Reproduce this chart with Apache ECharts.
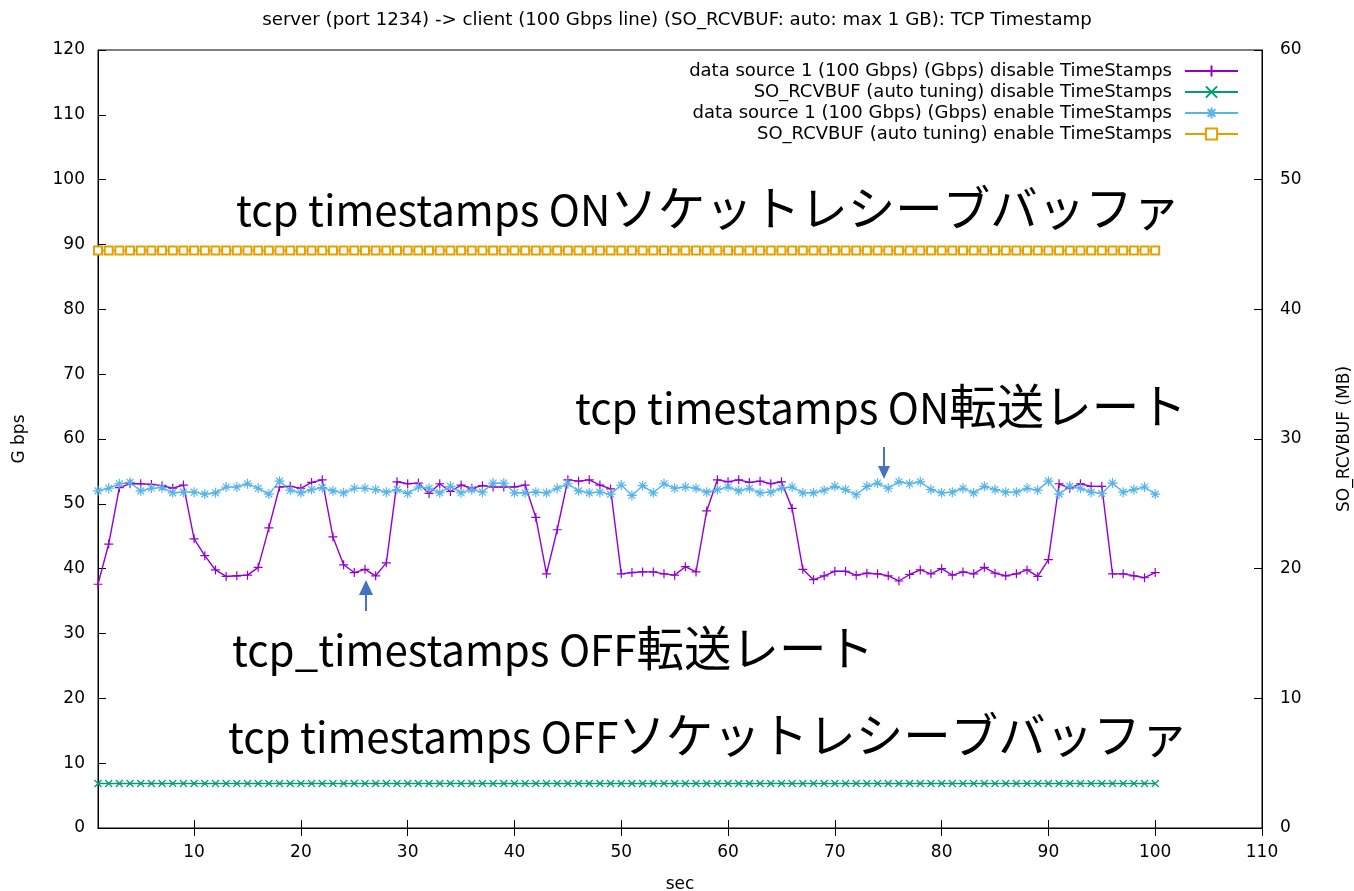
<!DOCTYPE html>
<html>
<head>
<meta charset="utf-8">
<title>TCP Timestamp</title>
<script src="https://cdn.jsdelivr.net/npm/echarts@6/dist/echarts.min.js"></script>
<style>
  html, body { margin: 0; padding: 0; background: #fff; }
  #chart { width: 1354px; height: 891px; }
</style>
</head>
<body>
<div id="chart"></div>
<script>
// elapsed time (sec)
const sec = [
  1, 2, 3, 4, 5, 6, 7, 8, 9, 10,
  11, 12, 13, 14, 15, 16, 17, 18, 19, 20,
  21, 22, 23, 24, 25, 26, 27, 28, 29, 30,
  31, 32, 33, 34, 35, 36, 37, 38, 39, 40,
  41, 42, 43, 44, 45, 46, 47, 48, 49, 50,
  51, 52, 53, 54, 55, 56, 57, 58, 59, 60,
  61, 62, 63, 64, 65, 66, 67, 68, 69, 70,
  71, 72, 73, 74, 75, 76, 77, 78, 79, 80,
  81, 82, 83, 84, 85, 86, 87, 88, 89, 90,
  91, 92, 93, 94, 95, 96, 97, 98, 99, 100
];

// throughput (Gbps) with TCP timestamps disabled
const rateTsOff = [
  37.6, 43.8, 52.5, 53.1, 53.1, 53.0, 52.8, 52.4, 52.9, 44.6,
  42.0, 39.8, 38.8, 38.9, 39.0, 40.2, 46.3, 52.6, 52.7, 52.4,
  53.3, 53.7, 44.9, 40.6, 39.4, 39.9, 38.9, 40.9, 53.4, 53.1,
  53.2, 51.6, 53.1, 51.9, 52.9, 52.4, 52.8, 52.6, 52.6, 52.6,
  52.9, 47.9, 39.2, 46.0, 53.7, 53.5, 53.7, 52.9, 52.3, 39.2,
  39.4, 39.5, 39.5, 39.2, 39.0, 40.3, 39.5, 48.9, 53.7, 53.4,
  53.7, 53.3, 53.5, 53.1, 53.4, 49.3, 39.9, 38.3, 38.9, 39.6,
  39.6, 39.0, 39.3, 39.2, 38.9, 38.1, 39.1, 39.8, 39.2, 40.0,
  39.0, 39.5, 39.2, 40.2, 39.3, 38.9, 39.2, 39.8, 38.8, 41.4,
  53.1, 52.4, 53.1, 52.7, 52.7, 39.2, 39.2, 38.9, 38.6, 39.4
];

// receive buffer size (MB) with TCP timestamps disabled
const bufTsOff = [
  3.43, 3.43, 3.43, 3.43, 3.43, 3.43, 3.43, 3.43, 3.43, 3.43,
  3.43, 3.43, 3.43, 3.43, 3.43, 3.43, 3.43, 3.43, 3.43, 3.43,
  3.43, 3.43, 3.43, 3.43, 3.43, 3.43, 3.43, 3.43, 3.43, 3.43,
  3.43, 3.43, 3.43, 3.43, 3.43, 3.43, 3.43, 3.43, 3.43, 3.43,
  3.43, 3.43, 3.43, 3.43, 3.43, 3.43, 3.43, 3.43, 3.43, 3.43,
  3.43, 3.43, 3.43, 3.43, 3.43, 3.43, 3.43, 3.43, 3.43, 3.43,
  3.43, 3.43, 3.43, 3.43, 3.43, 3.43, 3.43, 3.43, 3.43, 3.43,
  3.43, 3.43, 3.43, 3.43, 3.43, 3.43, 3.43, 3.43, 3.43, 3.43,
  3.43, 3.43, 3.43, 3.43, 3.43, 3.43, 3.43, 3.43, 3.43, 3.43,
  3.43, 3.43, 3.43, 3.43, 3.43, 3.43, 3.43, 3.43, 3.43, 3.43
];

// throughput (Gbps) with TCP timestamps enabled
const rateTsOn = [
  52.0, 52.4, 53.1, 53.3, 52.0, 52.4, 52.5, 51.7, 51.8, 51.8,
  51.5, 51.7, 52.6, 52.6, 53.1, 52.4, 51.5, 53.5, 52.1, 51.7,
  52.2, 52.5, 52.0, 51.7, 52.4, 52.4, 52.2, 51.8, 52.2, 51.6,
  52.6, 52.4, 51.7, 52.7, 51.7, 52.2, 51.8, 53.2, 53.2, 51.7,
  51.7, 51.8, 51.7, 52.4, 53.1, 52.0, 51.7, 51.8, 51.5, 52.9,
  51.3, 52.8, 51.7, 53.1, 52.4, 52.6, 52.4, 51.8, 52.2, 52.6,
  52.0, 52.4, 51.7, 51.8, 52.4, 52.6, 51.7, 51.7, 52.1, 52.7,
  52.2, 51.4, 52.7, 53.2, 52.4, 53.4, 53.1, 53.4, 52.2, 51.7,
  51.8, 52.4, 51.7, 52.7, 52.2, 51.8, 51.8, 52.4, 52.1, 53.5,
  51.5, 52.7, 52.4, 51.8, 51.6, 53.2, 51.8, 52.2, 52.6, 51.5
];

// receive buffer size (MB) with TCP timestamps enabled
const bufTsOn = [
  44.54, 44.54, 44.54, 44.54, 44.54, 44.54, 44.54, 44.54, 44.54, 44.54,
  44.54, 44.54, 44.54, 44.54, 44.54, 44.54, 44.54, 44.54, 44.54, 44.54,
  44.54, 44.54, 44.54, 44.54, 44.54, 44.54, 44.54, 44.54, 44.54, 44.54,
  44.54, 44.54, 44.54, 44.54, 44.54, 44.54, 44.54, 44.54, 44.54, 44.54,
  44.54, 44.54, 44.54, 44.54, 44.54, 44.54, 44.54, 44.54, 44.54, 44.54,
  44.54, 44.54, 44.54, 44.54, 44.54, 44.54, 44.54, 44.54, 44.54, 44.54,
  44.54, 44.54, 44.54, 44.54, 44.54, 44.54, 44.54, 44.54, 44.54, 44.54,
  44.54, 44.54, 44.54, 44.54, 44.54, 44.54, 44.54, 44.54, 44.54, 44.54,
  44.54, 44.54, 44.54, 44.54, 44.54, 44.54, 44.54, 44.54, 44.54, 44.54,
  44.54, 44.54, 44.54, 44.54, 44.54, 44.54, 44.54, 44.54, 44.54, 44.54
];

// axis tick values
const secTicks = [10, 20, 30, 40, 50, 60, 70, 80, 90, 100, 110];

const seriesNames = [
  'data source 1 (100 Gbps) (Gbps) disable TimeStamps',
  'SO_RCVBUF (auto tuning) disable TimeStamps',
  'data source 1 (100 Gbps) (Gbps) enable TimeStamps',
  'SO_RCVBUF (auto tuning) enable TimeStamps'
];

const colors = ['#9400d3', '#009e73', '#56b4e9', '#e69f00'];

// point markers
const PLUS = 'path://M5,0L5,10M0,5L10,5';
const CROSS = 'path://M0,0L10,10M10,0L0,10';
const STAR = 'path://M5,0L5,10M0,5L10,5M1.6,1.6L8.4,8.4M8.4,1.6L1.6,8.4';

const FONT = 'DejaVu Sans';
const NOTE_FONT = '"Noto Sans CJK JP"';

function pairs(ys) {
  return sec.map((x, i) => [x, ys[i]]);
}

function lineSeries(idx, ys, yAxisIndex, symbol, size) {
  return {
    name: seriesNames[idx],
    type: 'line',
    xAxisIndex: 0,
    yAxisIndex: yAxisIndex,
    data: pairs(ys),
    symbol: symbol,
    symbolSize: size,
    showAllSymbol: true,
    color: colors[idx],
    lineStyle: { color: colors[idx], width: 1.4 },
    itemStyle: {
      color: colors[idx],
      borderColor: colors[idx],
      borderWidth: 1.2
    },
    emphasis: { disabled: true },
    animation: false
  };
}

function arrow(x, yTail, yTip, headLen, headHalf) {
  const dir = yTip > yTail ? 1 : -1;
  const base = yTip - dir * headLen;
  return {
    type: 'group',
    children: [
      {
        type: 'line',
        shape: { x1: x, y1: yTail, x2: x, y2: base },
        style: { stroke: '#4472c4', lineWidth: 2 }
      },
      {
        type: 'polygon',
        shape: { points: [[x - headHalf, base], [x + headHalf, base], [x, yTip]] },
        style: { fill: '#4472c4' }
      }
    ]
  };
}

// annotation: latin part + japanese part on one line
function note(latin, jp, left, top) {
  return {
    type: 'text',
    left: left,
    top: top,
    style: {
      text: '{a|' + latin + '}{b|' + jp + '}',
      fill: '#000',
      rich: {
        a: { font: '42px ' + NOTE_FONT, fill: '#000', verticalAlign: 'bottom', lineHeight: 52 },
        b: { font: '47.5px ' + NOTE_FONT, fill: '#000', verticalAlign: 'bottom', lineHeight: 52 }
      }
    }
  };
}

const chart = echarts.init(document.getElementById('chart'), null, { renderer: 'canvas' });

chart.setOption({
  backgroundColor: '#fff',
  animation: false,
  title: {
    text: 'server (port 1234) -> client (100 Gbps line) (SO_RCVBUF: auto: max 1 GB): TCP Timestamp',
    left: 'center',
    top: 6,
    textStyle: { fontFamily: FONT, fontSize: 18.2, fontWeight: 'normal', color: '#000' }
  },
  legend: {
    orient: 'vertical',
    right: 110,
    top: 57,
    align: 'right',
    itemWidth: 53,
    itemHeight: 14,
    itemGap: 3,
    selectedMode: false,
    data: seriesNames,
    textStyle: { fontFamily: FONT, fontSize: 18, color: '#000', padding: [0, 8, 0, 0] }
  },
  grid: {
    left: 98,
    right: 92,
    top: 50,
    bottom: 63,
    outerBoundsMode: 'none',
    containLabel: false,
    show: true,
    borderColor: '#000',
    borderWidth: 1,
    backgroundColor: 'transparent'
  },
  xAxis: [
    {
      type: 'value',
      min: 1,
      max: 110,
      name: 'sec',
      nameLocation: 'middle',
      nameGap: 48,
      nameTextStyle: { fontFamily: FONT, fontSize: 17, color: '#000' },
      axisLine: { show: true, lineStyle: { color: '#000', width: 1 } },
      axisTick: { show: true, inside: true, length: 8, customValues: secTicks, lineStyle: { color: '#000' } },
      axisLabel: { show: true, customValues: secTicks, margin: 16, fontFamily: FONT, fontSize: 17, color: '#000' },
      splitLine: { show: false }
    },
    {
      type: 'value',
      position: 'top',
      min: 1,
      max: 110,
      axisLine: { show: true, lineStyle: { color: '#000', width: 1 } },
      axisTick: { show: true, inside: true, length: 8, customValues: secTicks, lineStyle: { color: '#000' } },
      axisLabel: { show: false },
      splitLine: { show: false }
    }
  ],
  yAxis: [
    {
      type: 'value',
      min: 0,
      max: 120,
      interval: 10,
      name: 'G bps',
      nameLocation: 'middle',
      nameGap: 70,
      nameTextStyle: { fontFamily: FONT, fontSize: 17, color: '#000' },
      axisLine: { show: true, lineStyle: { color: '#000', width: 1 } },
      axisTick: { show: true, inside: true, length: 8, lineStyle: { color: '#000' } },
      axisLabel: { margin: 13, fontFamily: FONT, fontSize: 17, color: '#000' },
      splitLine: { show: false }
    },
    {
      type: 'value',
      min: 0,
      max: 60,
      interval: 10,
      position: 'right',
      name: 'SO_RCVBUF (MB)',
      nameLocation: 'middle',
      nameGap: 74,
      nameRotate: 90,
      nameTextStyle: { fontFamily: FONT, fontSize: 17, color: '#000' },
      axisLine: { show: true, lineStyle: { color: '#000', width: 1 } },
      axisTick: { show: true, inside: true, length: 8, lineStyle: { color: '#000' } },
      axisLabel: { margin: 18, fontFamily: FONT, fontSize: 17, color: '#000' },
      splitLine: { show: false }
    }
  ],
  series: [
    lineSeries(0, rateTsOff, 0, PLUS, 9),
    lineSeries(1, bufTsOff, 1, CROSS, 7),
    lineSeries(2, rateTsOn, 0, STAR, 10),
    lineSeries(3, bufTsOn, 1, 'emptyRect', 8)
  ],
  graphic: [
    note('tcp timestamps ON', 'ソケットレシーブバッファ', 236, 184),
    note('tcp timestamps ON', '転送レート', 575, 382),
    note('tcp_timestamps OFF', '転送レート', 232, 624),
    note('tcp timestamps OFF', 'ソケットレシーブバッファ', 228, 711),
    arrow(884, 447, 479, 13, 6),
    arrow(366, 611, 580, 15, 7)
  ]
});
</script>
</body>
</html>
